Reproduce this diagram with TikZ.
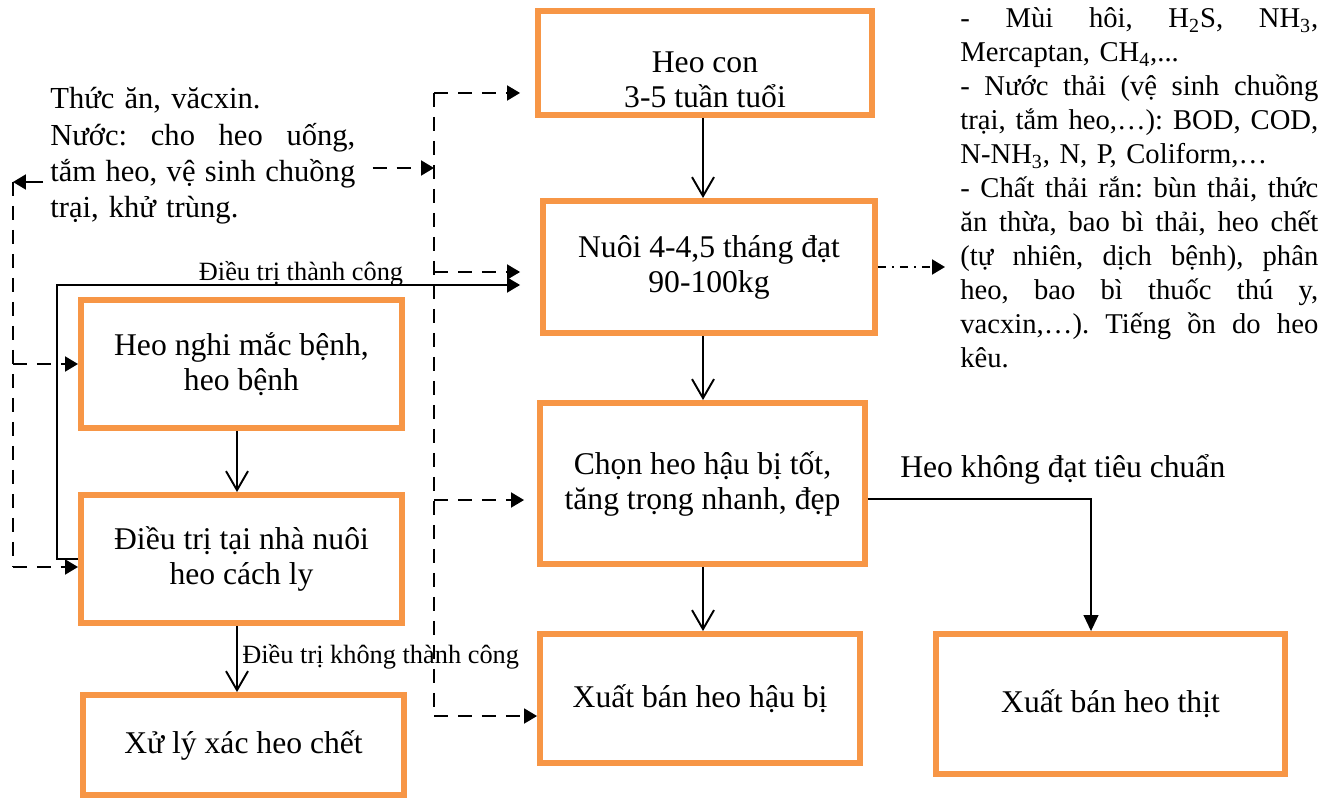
\documentclass[tikz,border=0pt]{standalone}
\usepackage{fontspec}
\setmainfont{Liberation Serif}
\usetikzlibrary{arrows.meta,positioning}

\definecolor{boxorange}{HTML}{F79646}
\frenchspacing
\newcommand{\spreadline}[2][7.16cm]{\makebox[#1][s]{\spaceskip=0pt\xspaceskip=0pt #2}}

\begin{document}
\begin{tikzpicture}[
  x=0.02cm, y=-0.02cm,
  box/.style={draw=boxorange, line width=3.4pt, align=center, inner sep=0pt,
              font=\fontsize{18}{19.9}\selectfont},
  txt/.style={inner sep=0pt, align=left, font=\fontsize{16.3}{19.3}\selectfont},
  lbl/.style={inner sep=0pt, font=\fontsize{15}{17}\selectfont},
  arrow/.style={-{Straight Barb[length=3.8mm,width=4.4mm]}, line width=1.1pt},
  tarrow/.style={-{Triangle[length=2.6mm,width=3mm]}, line width=1.1pt},
  dline/.style={line width=1.1pt, dash pattern=on 2.8mm off 2mm},
  darrow/.style={dline, -{Triangle[length=2.6mm,width=3mm]}},
  ddarrow/.style={tarrow, dash pattern=on 1.6mm off 1.2mm on 0.4mm off 1.2mm},
  rarrow/.style={-{Triangle[length=3.2mm,width=3mm]}, line width=0.6pt}
]
\useasboundingbox (0,0) rectangle (1334,800);

% main column
\node[box, minimum width=6.68cm, minimum height=2.08cm] (heocon) at (705,63) {\rule{0pt}{31pt}Heo con\\3-5 tuần tuổi};
\node[box, minimum width=6.64cm, minimum height=2.64cm] (nuoi) at (709,267) {Nuôi 4-4,5 tháng đạt\\90-100kg};
\node[box, minimum width=6.5cm, minimum height=3.22cm] (chon) at (702.5,483.5) {Chọn heo hậu bị tốt,\\tăng trọng nhanh, đẹp};
\node[box, minimum width=6.4cm, minimum height=2.58cm] (xbhb) at (700,698.5) {Xuất bán heo hậu bị};
\node[box, minimum width=6.98cm, minimum height=2.8cm] (xbht) at (1110.5,704) {Xuất bán heo thịt};

% sick pigs
\node[box, minimum width=6.42cm, minimum height=2.56cm] (nghi) at (241.5,364) {Heo nghi mắc bệnh,\\heo bệnh};
\node[box, minimum width=6.42cm, minimum height=2.56cm] (dieutri) at (241.5,559) {Điều trị tại nhà nuôi\\heo cách ly};
\node[box, minimum width=6.42cm, minimum height=2.0cm] (xuly) at (243.5,745) {Xử lý xác heo chết};

% inputs and wastes
\node[txt, text width=6.1cm, anchor=base west, font=\fontsize{17.4}{20.5}\selectfont] (inputs) at (50,109) {%
Thức ăn, văcxin.\\
\spreadline[6.1cm]{Nước: cho heo uống,}\\
\spreadline[6.1cm]{tắm heo, vệ sinh chuồng}\\
trại, khử trùng.};
\node[txt, text width=7.16cm, anchor=base west] (waste) at (960,28) {%
\spreadline{- Mùi hôi, H\textsubscript{2}S, NH\textsubscript{3},}\\
Mercaptan, CH\textsubscript{4},...\\
\spreadline{- Nước thải (vệ sinh chuồng}\\
\spreadline{trại, tắm heo,…): BOD, COD,}\\
N-NH\textsubscript{3}, N, P, Coliform,…\\
\spreadline{- Chất thải rắn: bùn thải, thức}\\
\spreadline{ăn thừa, bao bì thải, heo chết}\\
\spreadline{(tự nhiên, dịch bệnh), phân}\\
\spreadline{heo, bao bì thuốc thú y,}\\
\spreadline{vacxin,…). Tiếng ồn do heo}\\
kêu.};

\coordinate (midcol) at (703,0);
\coordinate (leftcol) at (237,0);
\draw[arrow] (heocon.south -| midcol) -- (nuoi.north -| midcol);
\draw[arrow] (nuoi.south -| midcol) -- (chon.north -| midcol);
\draw[arrow] (chon.south -| midcol) -- (xbhb.north -| midcol);
\draw[arrow] (nghi.south -| leftcol) -- (dieutri.north -| leftcol);
\draw[arrow] (dieutri.south -| leftcol) -- (xuly.north -| leftcol);
\node[lbl, anchor=base west] (fail) at (242,663) {Điều trị không thành công};

% back to farming
\coordinate (okturn) at (57,285);
\draw[tarrow, shorten >=4mm] (dieutri.west) -| (okturn) -- (okturn -| nuoi.west);
\node[lbl, anchor=base] (ok) at (301,280) {Điều trị thành công};

% supply line
\coordinate (bustop) at (434,93);
\coordinate (busin) at (434,168);
\coordinate (busnuoi) at (434,272);
\coordinate (buschon) at (434,500);
\coordinate (busbot) at (434,716);
\draw[dline] (bustop) -- (busbot);
\draw[darrow, shorten >=3mm] (bustop) -- (bustop -| heocon.west);
\draw[darrow, shorten >=4mm] (busnuoi) -- (busnuoi -| nuoi.west);
\draw[darrow, shorten >=2.6mm] (buschon) -- (buschon -| chon.west);
\draw[darrow] (busbot) -- (busbot -| xbhb.west);
\draw[darrow, shorten <=0.34cm] (inputs.east |- busin) -- (busin);

\coordinate (leftbus) at (13,182);
\coordinate (leftbot) at (13,567);
\draw[tarrow, shorten <=0.14cm] (inputs.west |- leftbus) -- (leftbus);
\draw[dline] (leftbus) -- (leftbot);
\draw[darrow] (leftbus |- nghi.west) -- (nghi.west);
\draw[darrow] (leftbot) -- (leftbot -| dieutri.west);

% wastes and rejects
\draw[ddarrow, shorten >=0.3cm] (nuoi.east) -- (nuoi.east -| waste.west);
\coordinate (rejturn) at (1091,499);
\draw[rarrow] (chon.east |- rejturn) -- (rejturn) -- (rejturn |- xbht.north);
\node[txt, anchor=base west, font=\fontsize{18}{20}\selectfont] (reject) at (900,477) {Heo không đạt tiêu chuẩn};
\end{tikzpicture}
\end{document}
